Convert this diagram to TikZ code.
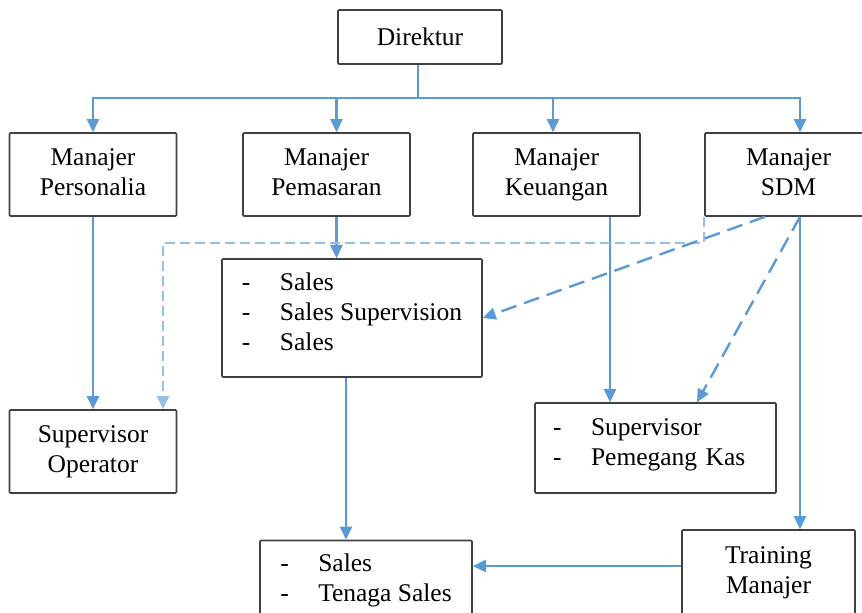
\documentclass[tikz,border=0pt]{standalone}
\usepackage{fontspec}
\setmainfont{Liberation Serif}
\newfontfamily\orgfont{Liberation Serif}
\usetikzlibrary{arrows.meta}
\definecolor{lineblue}{RGB}{91,155,213}
\definecolor{lightblue}{RGB}{150,192,232}
\definecolor{boxgray}{RGB}{64,64,64}
\newcommand{\dashitem}[1]{\makebox[38pt][l]{-}#1\strut}
\newcommand{\lowpad}{\rule[-17pt]{0pt}{17pt}}

\begin{document}
\begin{tikzpicture}[x=1pt, y=-1pt, >={Triangle[length=13pt,width=12pt]},
  b/.style={draw=boxgray, line width=1.6pt, rounded corners=1pt, align=center,
            inner sep=0pt, font=\orgfont\fontsize{25.5}{30}\selectfont},
  lst/.style={b, align=left},
  ln/.style={draw=lineblue, line width=2.4pt},
  dsh/.style={ln, dash pattern=on 16pt off 8pt},
  ldsh/.style={draw=lightblue, line width=2pt, dash pattern=on 10pt off 5pt}]
\useasboundingbox (0,0) rectangle (862,613);
\node[b, minimum width=164pt, minimum height=54pt] (dir) at (420,37) {Direktur};
\node[b, minimum width=167pt, minimum height=83pt] (m1) at (93,174.5) {Manajer\strut\\Personalia\strut};
\node[b, minimum width=167pt, minimum height=83pt] (m2) at (326.5,174.5) {Manajer\strut\\Pemasaran\strut};
\node[b, minimum width=167pt, minimum height=83pt] (m3) at (556.5,174.5) {Manajer\strut\\Keuangan\strut};
\node[b, minimum width=167pt, minimum height=83pt] (m4) at (788.5,174.5) {Manajer\strut\\SDM\strut};
\node[lst, minimum width=260pt, minimum height=118pt] (sales) at (352,318)
  {\dashitem{Sales}\\\dashitem{Sales Supervision}\\\dashitem{Sales}\lowpad};
\node[b, minimum width=167pt, minimum height=83pt] (so) at (93,451.5) {Supervisor\strut\\Operator\strut};
\node[lst, text width=205pt, minimum width=241pt, minimum height=90pt] (sup) at (655.5,448)
  {\dashitem{Supervisor}\\\dashitem{Pemegang Kas}\lowpad};
\node[lst, minimum width=212pt, minimum height=80pt] (ts) at (366,580.5)
  {\dashitem{Sales}\\\dashitem{Tenaga Sales}};
\node[b, minimum width=173pt, minimum height=84pt] (tm) at (768.5,572) {Training\strut\\Manajer\strut};

% struktur utama
\coordinate (bus) at (418,98);
\draw[ln] (dir.south -| bus) -- (bus);
\draw[ln,->] (bus) -| (m1.north);
\draw[ln,->] (bus) -| ([xshift=10pt]m2.north);
\draw[ln,->] (bus) -| ([xshift=-3.5pt]m3.north);
\draw[ln,->] (bus) -| ([xshift=11.5pt]m4.north);
\draw[ln,->] (m1) -- (so);
\draw[ln,->] ([xshift=10pt]m2.south) -- ([xshift=10pt]m2.south |- sales.north);
\draw[ln,->] ([xshift=53.5pt]m3.south) -- ([xshift=53.5pt]m3.south |- sup.north);
\draw[ln,->] ([xshift=11.5pt]m4.south) -- ([xshift=11.5pt]m4.south |- tm.north);
\draw[ln,->] ([xshift=-6pt]sales.south) -- ([xshift=-6pt]sales.south |- ts.north);
\draw[ln,->] ([yshift=6pt]tm.west) -- ([yshift=6pt]tm.west -| ts.east);

% garis putus-putus dari SDM
\coordinate (turn) at (163,243);
\draw[ldsh,->] (m4.south west) |- (turn) -- (turn |- so.north);
\draw[dsh,->] ([xshift=-23.5pt]m4.south) -- (sales.east);
\draw[dsh,->] ([xshift=11.5pt]m4.south) -- ([xshift=41.5pt]sup.north);
\end{tikzpicture}
\end{document}
